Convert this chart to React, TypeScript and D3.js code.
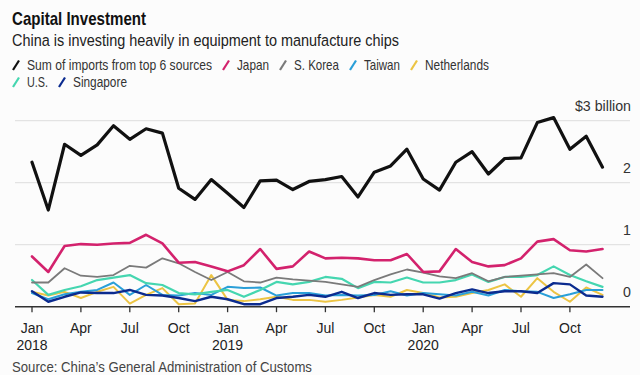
import React from "react";
import * as d3 from "d3";

const months = [
  "2018-01","2018-02","2018-03","2018-04","2018-05","2018-06","2018-07","2018-08","2018-09","2018-10","2018-11","2018-12",
  "2019-01","2019-02","2019-03","2019-04","2019-05","2019-06","2019-07","2019-08","2019-09","2019-10","2019-11","2019-12",
  "2020-01","2020-02","2020-03","2020-04","2020-05","2020-06","2020-07","2020-08","2020-09","2020-10","2020-11","2020-12",
];

const sumTop6 = [2.33,1.56,2.62,2.44,2.61,2.92,2.70,2.87,2.80,1.91,1.73,2.05,1.83,1.60,2.03,2.04,1.89,2.02,2.05,2.10,1.77,2.17,2.27,2.54,2.06,1.88,2.33,2.50,2.14,2.39,2.40,2.97,3.05,2.54,2.75,2.25];
const japan = [0.81,0.56,0.98,1.01,1.00,1.02,1.03,1.16,1.02,0.71,0.72,0.65,0.57,0.67,0.93,0.61,0.65,0.89,0.78,0.79,0.78,0.75,0.75,0.85,0.56,0.57,0.93,0.72,0.65,0.67,0.78,1.05,1.09,0.91,0.89,0.93];
const sKorea = [0.39,0.39,0.62,0.50,0.48,0.51,0.66,0.63,0.78,0.70,0.56,0.43,0.56,0.41,0.39,0.47,0.44,0.42,0.40,0.36,0.32,0.43,0.52,0.60,0.55,0.49,0.46,0.54,0.41,0.48,0.50,0.52,0.54,0.48,0.68,0.46];
const taiwan = [0.22,0.12,0.20,0.24,0.27,0.39,0.19,0.35,0.19,0.18,0.22,0.19,0.32,0.30,0.31,0.18,0.22,0.22,0.18,0.19,0.18,0.19,0.25,0.18,0.22,0.20,0.18,0.24,0.18,0.27,0.25,0.24,0.14,0.20,0.27,0.27];
const netherlands = [0.24,0.18,0.24,0.14,0.24,0.32,0.05,0.19,0.30,0.04,0.05,0.51,0.11,0.09,0.12,0.16,0.11,0.11,0.08,0.11,0.15,0.19,0.16,0.27,0.22,0.15,0.16,0.22,0.27,0.36,0.16,0.46,0.24,0.08,0.31,0.19];
const us = [0.43,0.19,0.27,0.33,0.43,0.47,0.51,0.38,0.35,0.22,0.20,0.24,0.27,0.16,0.27,0.40,0.36,0.40,0.48,0.45,0.30,0.40,0.39,0.47,0.39,0.39,0.43,0.52,0.40,0.48,0.48,0.51,0.65,0.51,0.41,0.32];
const singapore = [0.25,0.08,0.16,0.23,0.22,0.22,0.27,0.19,0.18,0.14,0.09,0.16,0.12,0.04,0.04,0.14,0.16,0.19,0.16,0.24,0.14,0.22,0.19,0.20,0.20,0.13,0.22,0.28,0.22,0.25,0.25,0.22,0.38,0.36,0.18,0.16];

const seriesNames = ["Sum of imports from top 6 sources","Japan","S. Korea","Taiwan","Netherlands","U.S.","Singapore"];
const yTickValues = [0, 1, 2, 3];
const yTickLabels = ["0", "1", "2", "$3 billion"];
const monthNames = ["Jan","Feb","Mar","Apr","May","Jun","Jul","Aug","Sep","Oct","Nov","Dec"];

const W = 640, H = 375;
const FONT = "'Liberation Sans', Arial, sans-serif";

const colors: Record<string, string> = {
  "Sum of imports from top 6 sources": "#111111",
  "Japan": "#d3226d",
  "S. Korea": "#7a7a7a",
  "Taiwan": "#2a9fd8",
  "Netherlands": "#ecc444",
  "U.S.": "#45d6b0",
  "Singapore": "#0b2b8f",
};
const strokeWidths: Record<string, number> = {
  "Sum of imports from top 6 sources": 3.2,
  "Japan": 2.6,
  "S. Korea": 1.8,
  "Taiwan": 2,
  "Netherlands": 2,
  "U.S.": 2.2,
  "Singapore": 2.4,
};
// target rendered widths of legend labels (condensed face emulated by horizontal scaling)
const legendLabelWidth: Record<string, number> = {
  "Sum of imports from top 6 sources": 185,
  "Japan": 32,
  "S. Korea": 45,
  "Taiwan": 36,
  "Netherlands": 64,
  "U.S.": 21,
  "Singapore": 54,
};

let measureCtx: CanvasRenderingContext2D | null = null;
function measure(text: string, size: number, weight: string) {
  if (!measureCtx) measureCtx = document.createElement("canvas").getContext("2d");
  if (!measureCtx) return text.length * size * 0.5;
  measureCtx.font = `${weight} ${size}px 'Liberation Sans', Arial, sans-serif`;
  return measureCtx.measureText(text).width;
}

function CondensedText(props: { x: number; y: number; width: number; size: number; weight?: string; fill: string; children: string }) {
  const weight = props.weight || "normal";
  const natural = measure(props.children, props.size, weight);
  const sx = props.width / natural;
  return (
    <text
      transform={`translate(${props.x},${props.y}) scale(${sx},1)`}
      fontFamily={FONT}
      fontWeight={weight}
      fontSize={props.size}
      fill={props.fill}
    >
      {props.children}
    </text>
  );
}

export default function App() {
  const valuesByName: Record<string, number[]> = {
    "Sum of imports from top 6 sources": sumTop6,
    "Japan": japan,
    "S. Korea": sKorea,
    "Taiwan": taiwan,
    "Netherlands": netherlands,
    "U.S.": us,
    "Singapore": singapore,
  };
  const drawOrder = ["Netherlands", "Taiwan", "U.S.", "S. Korea", "Singapore", "Japan", "Sum of imports from top 6 sources"];

  const x = d3.scalePoint<string>().domain(months).range([32, 602.5]);
  const y = d3.scaleLinear().domain([0, 3]).range([306.7, 120.7]);
  const line = d3.line<number>().x((_, i) => x(months[i]) as number).y((d) => y(d));

  const legendLayout: { name: string; x: number; row: number }[] = [];
  {
    let cx = 12, row = 0;
    seriesNames.forEach((n, i) => {
      if (i === 5) { cx = 12; row = 1; }
      legendLayout.push({ name: n, x: cx, row });
      cx += 15 + legendLabelWidth[n] + 10;
    });
  }

  const ticks = months.filter((_, i) => i % 3 === 0);

  return (
    <div style={{ position: "absolute", left: 0, top: 0 }}>
      <svg width={W} height={H} viewBox={`0 0 ${W} ${H}`} style={{ display: "block" }}>
        <rect x={0} y={0} width={W} height={H} fill="#fcfcfc" />
        <CondensedText x={12} y={25} width={134} size={18.4} weight="bold" fill="#111">Capital Investment</CondensedText>
        <CondensedText x={12} y={46} width={387} size={17.4} fill="#222">China is investing heavily in equipment to manufacture chips</CondensedText>

        {legendLayout.map((l) => {
          const by = l.row === 0 ? 70 : 87;
          return (
            <g key={l.name}>
              <line x1={l.x + 1} y1={by} x2={l.x + 7} y2={by - 9.5} stroke={colors[l.name]} strokeWidth={2.2} />
              <CondensedText x={l.x + 15} y={by} width={legendLabelWidth[l.name]} size={14.4} fill="#333">{l.name}</CondensedText>
            </g>
          );
        })}

        {yTickValues.filter((v) => v > 0).map((v) => (
          <line key={v} x1={15} x2={630} y1={y(v)} y2={y(v)} stroke="#dddddd" strokeWidth={1} />
        ))}
        {yTickValues.map((v, i) => (
          <text key={v} x={631} y={y(v) - 9.5} textAnchor="end" fontFamily={FONT} fontSize={14.2} fill="#333">{yTickLabels[i]}</text>
        ))}

        {drawOrder.map((n) => (
          <path key={n} d={line(valuesByName[n]) || ""} fill="none" stroke={colors[n]} strokeWidth={strokeWidths[n]} strokeLinejoin="round" strokeLinecap="round" />
        ))}

        <line x1={15} x2={630} y1={y(0)} y2={y(0)} stroke="#333" strokeWidth={1.6} />
        {ticks.map((m) => {
          const [yr, mo] = m.split("-");
          const xi = x(m) as number;
          return (
            <g key={m}>
              <line x1={xi} x2={xi} y1={y(0)} y2={y(0) + 5.5} stroke="#333" strokeWidth={1.3} />
              <text x={xi} y={333} textAnchor="middle" fontFamily={FONT} fontSize={14} fill="#222">{monthNames[+mo - 1]}</text>
              {mo === "01" && <text x={xi} y={350} textAnchor="middle" fontFamily={FONT} fontSize={14} fill="#222">{yr}</text>}
            </g>
          );
        })}

        <CondensedText x={12} y={372} width={301} size={14.5} fill="#444">Source: China’s General Administration of Customs</CondensedText>
      </svg>
    </div>
  );
}
